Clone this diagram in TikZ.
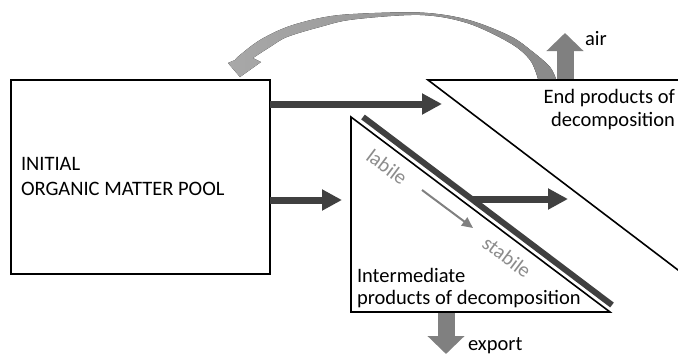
\documentclass[tikz,border=0pt]{standalone}
\usepackage{fontspec}
\setmainfont{Carlito}
\usetikzlibrary{arrows.meta}
\definecolor{flowdark}{HTML}{404040}
\definecolor{flowmid}{HTML}{808080}
\definecolor{flowlight}{HTML}{A8A8A8}
\definecolor{flowcurve}{HTML}{8A8A8A}
\definecolor{labelgray}{HTML}{8C8C8C}
\tikzset{
  every node/.style={font=\fontsize{20.5}{24.5}\selectfont, inner sep=0pt, outer sep=0pt},
  poolbox/.style={draw=black, line width=2pt, minimum width=259pt, minimum height=194pt, anchor=north west},
  outline/.style={draw=black, line width=1.6pt, line join=miter},
  darkflow/.style={draw=flowdark, line width=7pt, line cap=butt, -{Triangle[width=20pt,length=20pt]}},
  blockflow/.style={draw=flowmid, line width=17pt, line cap=butt, -{Triangle[width=36pt,length=18pt]}},
  thinflow/.style={draw=flowmid, line width=2pt, -{Triangle[width=10pt,length=11pt]}},
  sidelabel/.style={text=labelgray, rotate=-37},
}
\begin{document}
\begin{tikzpicture}[x=1pt, y=-1pt]
\useasboundingbox (0,0) rectangle (678,354);

% initial pool
\node[poolbox] (init) at (11,80) {};
\node[anchor=base west] (initA) at (21,170) {INITIAL};
\node[anchor=base west] (initB) at (21,195) {ORGANIC MATTER POOL};

% end products wedge (runs off the right edge)
\coordinate (eTop) at (428,80);
\coordinate (eRT) at (680,80);
\coordinate (eRB) at (680,271.5);
\draw[outline] (eRT) -- (eTop) -- (eRB);
\node[anchor=base east] (endA) at (675,103) {End products of};
\node[anchor=base east] (endB) at (675,126) {decomposition};

% intermediate products triangle
\coordinate (iTop) at (351,117);
\coordinate (iBL) at (351,312);
\coordinate (iBR) at (610,312);
\draw[outline] (iTop) -- (iBL) -- (iBR) -- cycle;
\node[anchor=base west] (midA) at (357,282) {Intermediate};
\node[anchor=base west] (midB) at (357,304) {products of decomposition};

% dark bar along the hypotenuse
\coordinate (barA) at (363,117);
\coordinate (barB) at (612,305);
\draw[flowdark, line width=6pt] (barA) -- (barB);

% labile -> stabile gradient
\node[sidelabel] (lab) at (387,167) {labile};
\node[sidelabel] (stab) at (507,257) {stabile};
\coordinate (g1) at (422,190);
\coordinate (g2) at (473,228);
\draw[thinflow] (g1) -- (g2);

% main flows
\coordinate (a1e) at (442,104);
\coordinate (a2e) at (342,200);
\draw[darkflow] (init.north east |- a1e) -- (a1e);
\draw[darkflow] (init.north east |- a2e) -- (a2e);
\coordinate (a3s) at (472,199);
\coordinate (a3e) at (568,199);
\draw[darkflow] (a3s) -- (a3e);

% export and air
\coordinate (ex1) at (446,312.8);
\coordinate (ex2) at (446,354);
\draw[blockflow] (ex1) -- (ex2);
\node[anchor=base west] (exp) at (468,350) {export};
\coordinate (air1) at (565,79.2);
\coordinate (air2) at (565,33);
\draw[blockflow] (air1) -- (air2);
\node[anchor=base west] (airl) at (585,45) {air};

% recycling arc back to the pool
\fill[left color=flowlight, right color=flowcurve]
  plot[smooth, tension=0.55] coordinates {(556,79) (550,67) (533,52) (510,36) (467,19.5) (420,12.5) (353,14) (320,18) (287,27) (260,40) (240,55) (235,60)}
  -- (228,63) -- (240,77) -- (261,62) -- (253,58)
  -- plot[smooth, tension=0.55] coordinates {(253,58) (270,47) (287,37) (320,27) (353,19.5) (420,15) (467,23) (510,43) (530,60) (538,79)}
  -- cycle;
\end{tikzpicture}
\end{document}
